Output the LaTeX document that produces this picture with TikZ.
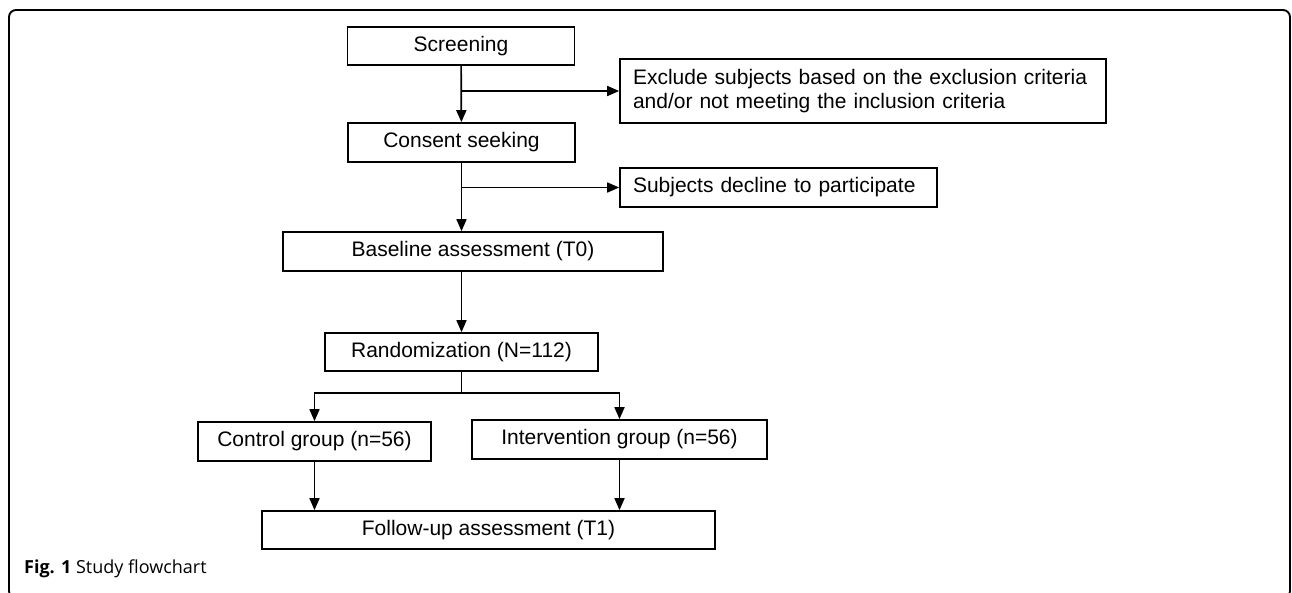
\documentclass[tikz,border=0pt]{standalone}
\usepackage{xcolor}
\usepackage{fontspec}
\setmainfont{Liberation Sans}
\newfontfamily\capfont{Open Sans}
\usepackage{tikz}
\usetikzlibrary{shapes,arrows.meta,positioning,calc}

\begin{document}
\begin{tikzpicture}[x=1pt, y=-1pt,
    stepbox/.style={rectangle, draw, line width=1.7pt, inner sep=0pt, minimum height=38pt, font=\fontsize{21}{24}\selectfont},
    notebox/.style={stepbox, align=left, inner xsep=13pt},
    flow/.style={line width=1.7pt, -{Triangle[length=12pt,width=10pt]}}]
    \useasboundingbox (0,0) rectangle (1292,592);
    \begin{scope}
        \clip (0,0) rectangle (1292,592);
        \draw[line width=1.9pt, rounded corners=7pt] (9,10) rectangle (1290,598);
    \end{scope}

    \node (screen) [stepbox, minimum width=227pt] at (461,46) {Screening};
    \node (consent) [stepbox, minimum width=227pt, minimum height=39pt] at (461.5,142.5) {Consent seeking};
    \node (exclude) [notebox, minimum width=486pt, minimum height=64pt, text width=460pt] at (863,91) {Exclude subjects based on the exclusion criteria\\and/or not meeting the inclusion criteria};
    \node (decline) [notebox, minimum width=317pt, minimum height=39pt, text width=291pt] at (778.5,187.5) {Subjects decline to participate};
    \node (base) [stepbox, minimum width=380pt, minimum height=39pt] at (473,251.5) {Baseline assessment (T0)};
    \node (random) [stepbox, minimum width=273pt] at (461.5,352) {Randomization (N=112)};
    \node (control) [stepbox, minimum width=233pt, minimum height=39pt] at (314.5,441.5) {Control group (n=56)};
    \node (interv) [stepbox, minimum width=295pt, minimum height=39pt] at (619.5,439.5) {Intervention group (n=56)};
    \node (follow) [stepbox, minimum width=453pt] at (488.5,530) {Follow-up assessment (T1)};
    \coordinate (split) at (461.5,393);

    \draw [flow] (screen) -- (consent);
    \draw [flow] (screen.south |- exclude.west) -- (exclude.west);
    \draw [flow] (consent.south) -- (consent.south |- base.north);
    \draw [flow] (consent.south |- decline.west) -- (decline.west);
    \draw [flow] (random.north |- base.south) -- (random.north);
    \draw [line width=1.7pt] (random.south) -- (split);
    \draw [flow] (split) -| (control.north);
    \draw [flow] (split) -| (interv.north);
    \draw [flow] (control.south) -- (control.south |- follow.north);
    \draw [flow] (interv.south) -- (interv.south |- follow.north);

    \node (caption) [anchor=west, inner sep=0pt, font=\capfont\fontsize{18}{21}\selectfont] at (24,569) {\textbf{Fig. 1} Study flowchart};
\end{tikzpicture}
\end{document}
